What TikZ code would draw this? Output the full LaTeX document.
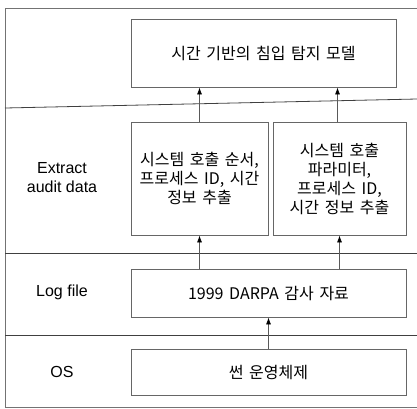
\documentclass[tikz,border=0pt]{standalone}
\usepackage{fontspec}
\setmainfont{Liberation Sans}
\newfontfamily\krfont{Noto Sans CJK KR}
\usepackage{tikz}
\usetikzlibrary{positioning,arrows.meta,calc}

\newcommand{\krtext}{\krfont\fontsize{16}{19}\selectfont\spaceskip=0.35em\relax}

\tikzset{
    stage/.style={draw=black!60, line width=0.8pt, rectangle, inner sep=0pt, align=center, font=\krtext},
    layer/.style={font=\fontsize{16}{19}\selectfont, align=center, inner sep=0pt},
    up/.style={-{Latex[length=7pt,width=5pt,black]}, draw=black!65, line width=0.8pt},
    sep/.style={draw=black!75, line width=0.8pt}
}

\begin{document}
\begin{tikzpicture}[x=1pt, y=-1pt]
        \useasboundingbox (0,0) rectangle (417,408);
        % frame and layer lines
        \draw[draw=black!55, line width=0.8pt] (417,8) -- (5,8) -- (5,407) -- (417,407);
        \draw[sep] (5,108) -- (417,99);
        \draw[sep] (5,253) -- (417,253);
        \draw[sep] (5,335) -- (417,335);

        \node[stage, minimum width=265pt, minimum height=68pt] (model) at (263.5,53) {시간 기반의 침입 탐지 모델};
        \node[stage, minimum width=137pt, minimum height=113pt] (seq) at (199.5,178.5) {시스템 호출 순서,\\프로세스 ID, 시간\\정보 추출};
        \node[stage, minimum width=133pt, minimum height=113pt] (param) at (339.5,178.5) {시스템 호출\\파라미터,\\프로세스 ID,\\시간 정보 추출};
        \node[stage, minimum width=275pt, minimum height=48pt] (darpa) at (268.5,293) {1999 DARPA 감사 자료};
        \node[stage, minimum width=275pt, minimum height=46pt] (sunos) at (268.5,372) {썬 운영체제};

        \node[layer] (audit) at (62,178) {Extract\\audit data};
        \node[layer] (log) at (62,292) {Log file};
        \node[layer] (os) at (62,372) {OS};

        \draw[up] (seq.north) -- (seq.north |- model.south);
        \draw[up] ([xshift=-2pt]param.north) -- ([xshift=-2pt]param.north |- model.south);
        \draw[up] (seq.south |- darpa.north) -- (seq.south);
        \draw[up] (param.south |- darpa.north) -- (param.south);
        \draw[up] (sunos.north) -- (darpa.south);
    \end{tikzpicture}
\end{document}
